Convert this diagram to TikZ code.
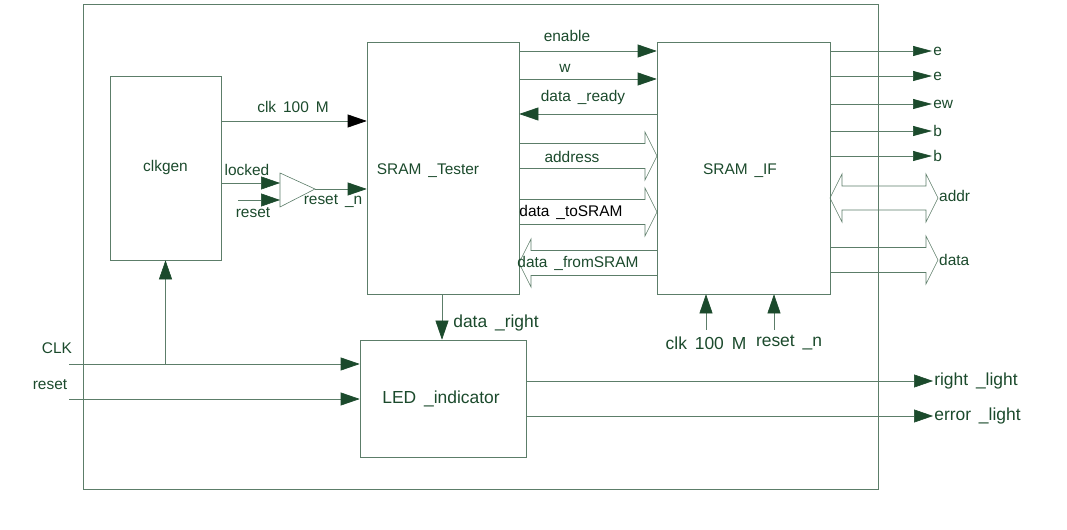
\documentclass[tikz,border=0pt]{standalone}
\usepackage{fontspec}
\setmainfont{Liberation Sans}
\usetikzlibrary{arrows.meta}
\definecolor{wire}{HTML}{5C7D69}
\definecolor{ink}{HTML}{1B4A2C}
\newcommand{\gap}{\hspace{0.45em}}
\tikzset{
  box/.style={draw=wire, line width=0.6bp, inner sep=0pt, text=ink, font=\fontsize{15.5}{18}\selectfont},
  lbl/.style={text=ink, inner sep=1pt, font=\fontsize{15.5}{18}\selectfont},
  biglbl/.style={lbl, font=\fontsize{17.5}{20}\selectfont},
  sig/.style={draw=wire, line width=0.6bp, -{Triangle[length=19bp,width=13bp,color=ink]}},
  sigs/.style={draw=wire, line width=0.6bp, -{Triangle[length=19bp,width=10bp,color=ink]}},
  bus/.style={draw=wire, line width=0.6bp}
}
% bus arrows (shaft half width 12.5, head half width 24, head length 12)
\newcommand{\busright}[3]{\draw[bus] (#1,#3-12.5) -- (#2-12,#3-12.5) -- (#2-12,#3-24) -- (#2,#3) -- (#2-12,#3+24) -- (#2-12,#3+12.5) -- (#1,#3+12.5);}
\newcommand{\busleft}[3]{\draw[bus] (#1,#3-12.5) -- (#2+12,#3-12.5) -- (#2+12,#3-24) -- (#2,#3) -- (#2+12,#3+24) -- (#2+12,#3+12.5) -- (#1,#3+12.5);}
\begin{document}
\begin{tikzpicture}[x=1bp, y=-1bp]
\useasboundingbox (0,0) rectangle (1067,530);
% outer frame
\draw[bus] (83,4) rectangle (878,489);
% blocks
\node[box, minimum width=111bp, minimum height=184bp] (clkgen) at (165.5,168) {clkgen};
\node[box, minimum width=152bp, minimum height=252bp] (tester) at (443,168) {};
\node[lbl] (ltester) at (428,171) {SRAM\gap\_Tester};
\node[box, minimum width=173bp, minimum height=252bp] (sramif) at (743.5,168) {};
\node[lbl] (lsramif) at (740,171) {SRAM\gap\_IF};
\node[box, minimum width=166bp, minimum height=117bp] (led) at (443,398.5) {};
\node[biglbl] (lled) at (441,399) {LED\gap\_indicator};
% clock into tester
\draw[draw=wire, line width=0.6bp, -{Triangle[length=19bp,width=13bp,color=black]}] (clkgen.east |- 0,121) -- (tester.west |- 0,121);
\node[lbl] (lclk) at (293,107) {clk\gap 100\gap M};
% reset buffer
\draw[bus] (280,173) -- (315,189) -- (280,207) -- cycle;
\coordinate (bufin1) at (280,183);
\coordinate (bufin2) at (280,200);
\coordinate (bufout) at (315,189);
\draw[sig] (clkgen.east |- bufin1) -- (bufin1);
\draw[sig] (238,200) -- (bufin2);
\draw[sig] (bufout) -- (tester.west |- bufout);
\node[lbl] (llocked) at (247,170) {locked};
\node[lbl] (lreset) at (253,213) {reset};
\node[lbl] (lresetn) at (333,201) {reset\gap\_n};
% tester <-> sram_if
\draw[sig] (tester.east |- 0,51) -- (sramif.west |- 0,51);
\node[lbl] (lenable) at (567,36) {enable};
\draw[sig] (tester.east |- 0,79) -- (sramif.west |- 0,79);
\node[lbl] (lw) at (565,68) {w};
\draw[sig] (sramif.west |- 0,114) -- (tester.east |- 0,114);
\node[lbl] (lready) at (583,98) {data\gap\_ready};
\busright{519}{657}{156}
\node[lbl] (laddress) at (572,157) {address};
\busright{519}{657}{212}
\node[lbl, text=black] (ltosram) at (571,212) {data\gap\_toSRAM};
\busleft{657}{519}{263}
\node[lbl] (lfromsram) at (578,263) {data\gap\_fromSRAM};
% sram_if outputs
\foreach \y/\t in {51/e, 76/e, 104/ew, 131/b, 156/b}
  \draw[sigs] (sramif.east |- 0,\y) -- (932,\y) node[lbl, right] {\t};
\draw[bus] (830,198) -- (842,174) -- (842,186) -- (926,186) -- (926,174) -- (938,198)
  -- (926,222) -- (926,210) -- (842,210) -- (842,222) -- cycle;
\node[lbl, right] (laddr) at (938,196) {addr};
\busright{830}{938}{260}
\node[lbl, right] (ldata) at (938,260) {data};
% sram_if inputs
\coordinate (ifclk) at (706,330);
\coordinate (ifrst) at (774,330);
\draw[sig] (ifclk) -- (sramif.south -| ifclk);
\draw[sig] (ifrst) -- (sramif.south -| ifrst);
\node[biglbl] (lifclk) at (706,343) {clk\gap 100\gap M};
\node[biglbl] (lifrst) at (789,343) {reset\gap\_n};
% tester -> led
\draw[sig] (tester.south -| 442,0) -- (led.north -| 442,0);
\node[biglbl] (lright) at (496,323) {data\gap\_right};
% top inputs
\coordinate (clkin) at (69,364);
\coordinate (rstin) at (69,399);
\draw[sig] (clkin) -- (led.west |- clkin);
\draw[sig] (rstin) -- (led.west |- rstin);
\draw[sig] (clkgen.south |- clkin) -- (clkgen.south);
\node[lbl] (lclkin) at (57,348) {CLK};
\node[lbl] (lrstin) at (50,385) {reset};
% led outputs
\coordinate (rlight) at (933,381);
\coordinate (elight) at (933,416);
\draw[sig] (led.east |- rlight) -- (rlight) node[biglbl, right] {right\gap\_light};
\draw[sig] (led.east |- elight) -- (elight) node[biglbl, right] {error\gap\_light};
\end{tikzpicture}
\end{document}
